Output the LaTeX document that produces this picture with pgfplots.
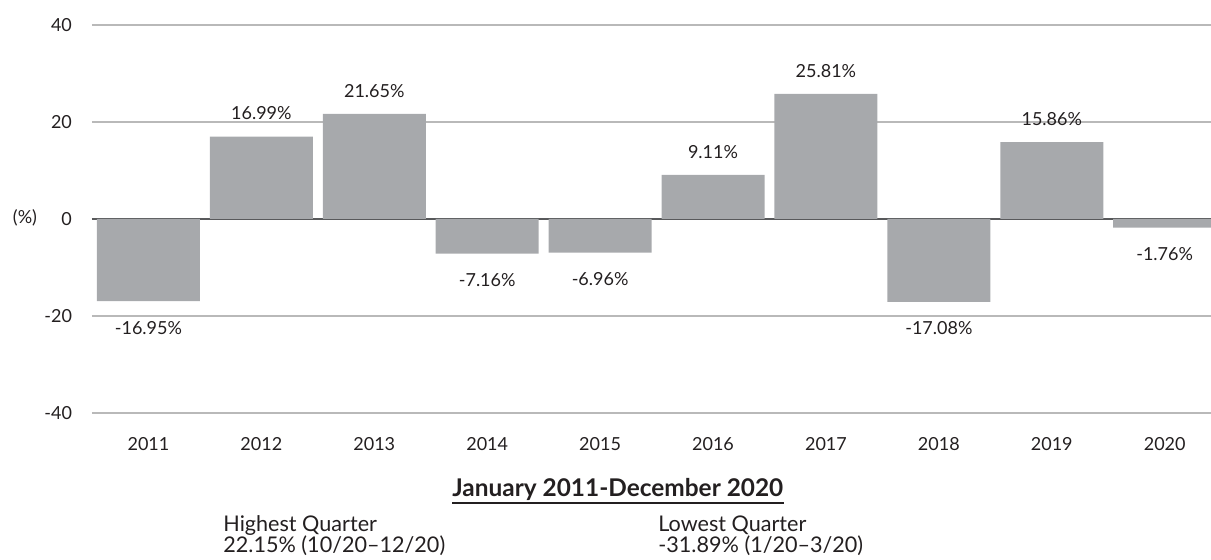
\documentclass[border=0pt]{standalone}
\usepackage{fontspec}
\setmainfont{Lato}
\usepackage{pgfplots}
\usepackage{pgfplotstable}
\pgfplotsset{compat=1.18}
\definecolor{barc}{RGB}{167,169,172}
\definecolor{gridc}{RGB}{185,185,185}
\definecolor{zeroc}{RGB}{88,89,91}
\definecolor{txt}{RGB}{35,31,32}
\pgfplotstableread{
x y label
0 -16.95 -16.95\%
1 16.99 16.99\%
2 21.65 21.65\%
3 -7.16 -7.16\%
4 -6.96 -6.96\%
5 9.11 9.11\%
6 25.81 25.81\%
7 -17.08 -17.08\%
8 15.86 15.86\%
9 -1.76 -1.76\%
}\returns
\begin{document}
\begin{tikzpicture}
\useasboundingbox (0,0) rectangle (605.5pt,280pt);
\begin{axis}[
  at={(46pt,73.5pt)}, anchor=south west,
  scale only axis, width=559.5pt, height=194pt,
  xmin=-0.5, xmax=9.41, ymin=-40, ymax=40,
  axis line style={draw=none},
  major tick length=0pt,
  ytick={-40,-20,0,20,40}, yticklabels={-40,-20,0,20,40},
  xtick={0,...,9}, xticklabels={2011,2012,2013,2014,2015,2016,2017,2018,2019,2020},
  ymajorgrids, grid style={gridc, line width=0.7pt},
  extra y ticks={0}, extra y tick labels={},
  extra y tick style={grid style={zeroc, line width=0.9pt}},
  yticklabel style={font=\fontsize{9}{10}\selectfont, text=txt, xshift=-6.5pt},
  xticklabel style={font=\fontsize{9}{10}\selectfont, text=txt, yshift=-8.5pt},
  clip=true,
]
\addplot[ybar, fill=barc, draw=none, bar width=0.912,
  visualization depends on={rawy \as \rawy},
  nodes near coords, point meta=explicit symbolic,
  nodes near coords style={font=\fontsize{9}{10}\selectfont, text=txt, inner sep=0pt, outer sep=0pt,
    /utils/exec={\ifdim\rawy pt<0pt \def\myanchor{north}\def\myshift{-10pt}\else\def\myanchor{south}\def\myshift{8.3pt}\fi},
    anchor=\myanchor, yshift=\myshift}]
  table[x=x, y=y, meta=label] {\returns};
\end{axis}
\node[font=\fontsize{9}{10}\selectfont, text=txt] at (12.5pt,171pt) {(\%)};
\node[font=\bfseries\fontsize{12.2}{14}\selectfont, text=txt, anchor=base west, inner sep=0pt] (t) at (226pt,31.5pt) {January 2011-December 2020};
\draw[txt, line width=0.6pt] ([yshift=-3pt]t.base west) -- ([yshift=-3pt]t.base east);
\node[font=\fontsize{10.8}{12}\selectfont, text=txt, anchor=base west, inner sep=0pt] at (111.5pt,14pt) {Highest Quarter};
\node[font=\fontsize{10.8}{12}\selectfont, text=txt, anchor=base west, inner sep=0pt] at (111.5pt,3.7pt) {22.15\% (10/20--12/20)};
\node[font=\fontsize{10.8}{12}\selectfont, text=txt, anchor=base west, inner sep=0pt] at (329pt,14pt) {Lowest Quarter};
\node[font=\fontsize{10.8}{12}\selectfont, text=txt, anchor=base west, inner sep=0pt] at (329pt,3.7pt) {-31.89\% (1/20--3/20)};
\end{tikzpicture}
\end{document}
